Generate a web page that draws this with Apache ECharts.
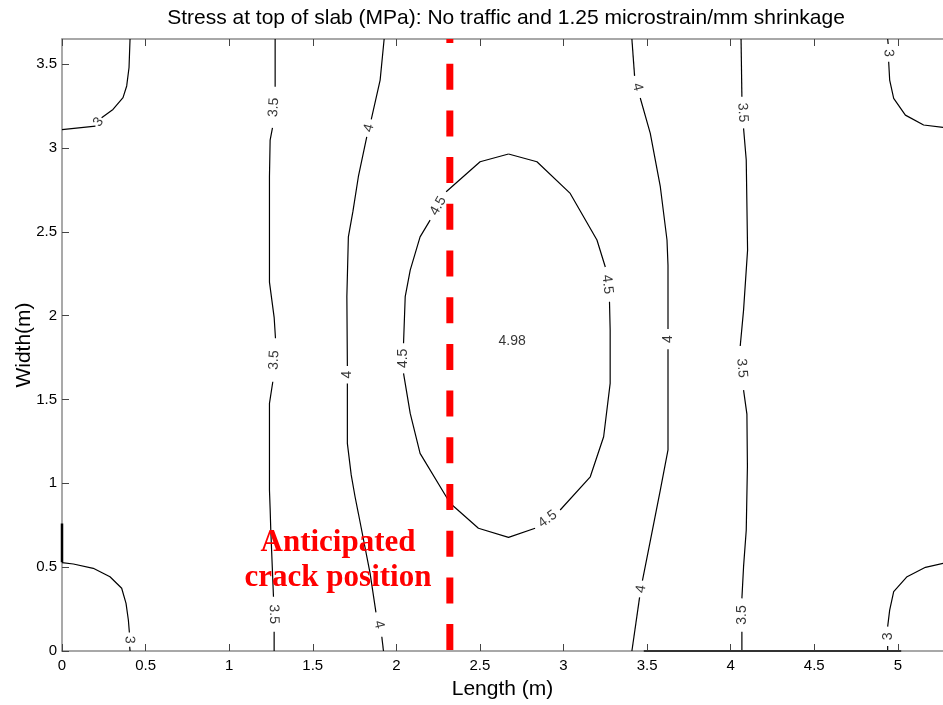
<!DOCTYPE html>
<html><head><meta charset="utf-8">
<script src="https://cdn.jsdelivr.net/npm/echarts@6/dist/echarts.min.js"></script>
<style>html,body{margin:0;padding:0;background:#fff}#c{width:943px;height:705px}</style>
</head><body><div id="c"></div>
<script>
// ---- axis ranges ----
const xMin = 0, xMax = 5.27, xInterval = 0.5;
const yMin = 0, yMax = 3.65, yInterval = 0.5;

// ---- contour lines (x = length m, y = width m); null = label gap ----
const c3TopLeft = [[0,3.11],[0.2,3.13],null,[0.237,3.18],[0.305,3.23],[0.365,3.30],[0.387,3.37],[0.401,3.48],[0.407,3.65]];
const c3BottomLeft = [[0,0.527],[0.068,0.519],[0.187,0.493],[0.287,0.443],[0.357,0.374],[0.383,0.284],[0.397,0.185],[0.403,0.11],null,[0.405,0.025],[0.407,0]];
const c35Left = [[1.275,3.65],[1.275,3.365],null,[1.259,3.12],[1.245,3.047],[1.241,2.83],[1.241,2.39],[1.241,2.20],[1.269,1.99],[1.277,1.865],null,[1.261,1.606],[1.241,1.477],[1.241,0.96],[1.245,0.85],[1.249,0.72],[1.265,0.324],null,[1.269,0.115],[1.269,0]];
const c4Left = [[1.927,3.65],[1.903,3.405],[1.85,3.17],null,[1.823,3.067],[1.773,2.83],[1.74,2.62],[1.713,2.47],[1.704,2.113],[1.707,1.70],null,[1.707,1.596],[1.707,1.238],[1.73,1.05],[1.753,0.92],[1.773,0.82],[1.843,0.463],[1.878,0.23],null,[1.913,0.085],[1.923,0]];
const c45Ellipse = [[2.671,2.964],[2.841,2.918],[3.04,2.729],[3.2,2.451],[3.25,2.29],null,[3.275,2.083],[3.279,1.914],[3.279,1.596],[3.24,1.278],[3.16,1.039],[2.98,0.841],null,[2.83,0.732],[2.671,0.678],[2.491,0.732],[2.322,0.881],[2.142,1.179],[2.083,1.417],[2.043,1.656],null,[2.043,1.835],[2.053,2.113],[2.083,2.272],[2.142,2.47],[2.202,2.57],null,[2.298,2.739],[2.501,2.918],[2.671,2.964]];
const c4Right = [[3.409,3.65],[3.425,3.43],null,[3.459,3.298],[3.519,3.087],[3.579,2.769],[3.619,2.451],[3.625,2.30],[3.625,1.92],null,[3.625,1.80],[3.625,1.199],[3.579,0.96],[3.499,0.555],[3.472,0.42],null,[3.455,0.32],[3.409,0]];
const c35Right = [[4.062,3.65],[4.067,3.305],null,[4.077,3.117],[4.093,2.928],[4.101,2.391],[4.077,2.033],[4.057,1.819],null,[4.077,1.556],[4.097,1.413],[4.100,1.1],[4.093,0.72],[4.077,0.503],[4.067,0.314],null,[4.067,0.115],[4.067,0]];
const c3TopRight = [[4.939,3.65],[4.942,3.62],null,[4.945,3.514],[4.951,3.405],[4.975,3.296],[5.045,3.196],[5.154,3.137],[5.272,3.123]];
const c3BottomRight = [[5.272,0.523],[5.165,0.499],[5.055,0.443],[4.975,0.354],[4.951,0.244],[4.939,0.145],null,[4.939,0.03],[4.939,0]];

const contourLevels = ['3','3','3.5','4','4.5','4','3.5','3','3'];
const contourLines = [c3TopLeft,c3BottomLeft,c35Left,c4Left,c45Ellipse,c4Right,c35Right,c3TopRight,c3BottomRight];

const peakLabel = [2.693, 1.849, '4.98'];
const boundaryLeft = [[0,0.53],[0,0.76]];
const boundaryBottom = [[3.48,0],[5.02,0]];
const crackX = 2.32;

const titleText = 'Stress at top of slab (MPa): No traffic and 1.25 microstrain/mm shrinkage';
const xName = 'Length (m)';
const yName = 'Width(m)';
const crackText = 'Anticipated\ncrack position';

const FONT = '"Liberation Sans", Arial, sans-serif';
const chart = echarts.init(document.getElementById('c'), null, {renderer:'canvas'});

const series = [];
const gaps = [];
contourLines.forEach((pts, ci) => {
  let seg = [];
  pts.forEach((p, i) => {
    if (p === null) {
      if (seg.length) series.push(seg);
      seg = [];
      gaps.push({a: pts[i-1], b: pts[i+1], text: contourLevels[ci]});
    } else seg.push(p);
  });
  if (seg.length) series.push(seg);
});

const lineSeries = series.map(seg => ({
  type:'line', data:seg, xAxisIndex:0, yAxisIndex:0, showSymbol:false, symbol:'none',
  lineStyle:{color:'#000', width:1.2}, silent:true, animation:false, z:3
}));
const boundarySeries = [
  {type:'line', data:boundaryLeft, showSymbol:false, symbol:'none', lineStyle:{color:'#000', width:2.5}, silent:true, animation:false, z:4},
  {type:'line', data:boundaryBottom, showSymbol:false, symbol:'none', lineStyle:{color:'#333', width:2}, silent:true, animation:false, z:4}
];
const crackSeries = {
  type:'line', data:[[crackX,yMax],[crackX,0]], showSymbol:false, symbol:'none',
  lineStyle:{color:'#ff0000', width:7, type:[26,20.7], dashOffset:22, cap:'butt'}, silent:true, animation:false, z:6
};

const axisCommon = {
  type:'value', splitLine:{show:false},
  axisLine:{show:true, onZero:false, lineStyle:{color:'#8c8c8c', width:1.5}},
  axisTick:{show:true, inside:true, length:7, lineStyle:{color:'#444', width:1}},
};

const option = {
  backgroundColor:'#fff',
  animation:false,
  grid:{left:62, right:0, top:39, bottom:54, containLabel:false, outerBoundsMode:'none'},
  xAxis:[
    Object.assign({}, axisCommon, {
      min:xMin, max:xMax, interval:xInterval, position:'bottom',
      axisLabel:{color:'#000', fontSize:15, fontFamily:FONT, margin:7, showMaxLabel:false},
      name:xName, nameLocation:'middle', nameGap:28,
      nameTextStyle:{color:'#000', fontSize:21, fontFamily:FONT}
    }),
    Object.assign({}, axisCommon, {
      min:xMin, max:xMax, interval:xInterval, position:'top',
      axisLabel:{show:false}
    })
  ],
  yAxis:[Object.assign({}, axisCommon, {
    min:yMin, max:yMax, interval:yInterval,
    axisLabel:{color:'#000', fontSize:15, fontFamily:FONT, margin:5, showMaxLabel:false},
    name:yName, nameLocation:'middle', nameGap:27, nameMoveOverlap:false,
    nameTextStyle:{color:'#000', fontSize:21, fontFamily:FONT}
  })],
  graphic:[
    {type:'text', x:506, y:18, z:10, style:{text:titleText, fill:'#000', font:'21px ' + FONT, textAlign:'center', textVerticalAlign:'middle'}},
    {type:'text', x:338, y:525, z:10, style:{text:crackText, fill:'#ff0000', font:'bold 31px "Liberation Serif", "Times New Roman", serif', textAlign:'center', textVerticalAlign:'top', lineHeight:35}}
  ],
  series: lineSeries.concat(boundarySeries, [crackSeries])
};
chart.setOption(option);

// labels placed in gaps, rotated along line direction via the chart's scales
const labelData = gaps.map(g => {
  const pa = chart.convertToPixel({xAxisIndex:0, yAxisIndex:0}, g.a);
  const pb = chart.convertToPixel({xAxisIndex:0, yAxisIndex:0}, g.b);
  let ang = Math.atan2(-(pb[1]-pa[1]), pb[0]-pa[0]) * 180 / Math.PI;
  if (ang > 90) ang -= 180;
  if (ang <= -90) ang += 180;
  return {value:[(g.a[0]+g.b[0])/2, (g.a[1]+g.b[1])/2, g.text], label:{rotate:ang}};
});
labelData.push({value:peakLabel, label:{rotate:0, fontSize:14}});

option.series.push({
  type:'scatter', data:labelData, symbolSize:1, itemStyle:{color:'rgba(0,0,0,0)'},
  silent:true, animation:false, z:5,
  label:{show:true, position:'inside', formatter:p => p.value[2], color:'#000', fontSize:14, fontFamily:FONT}
});
chart.setOption(option);
</script></body></html>
